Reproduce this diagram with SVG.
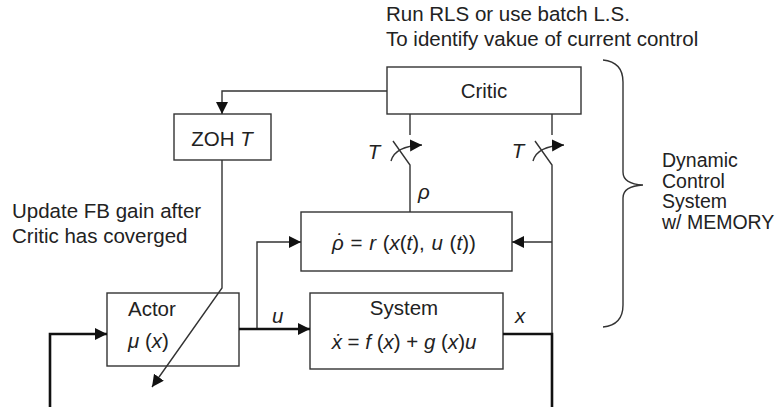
<svg xmlns="http://www.w3.org/2000/svg" width="776" height="407" viewBox="0 0 776 407">
<style>
text{font-family:"Liberation Sans",Arial,sans-serif;font-size:20.5px;fill:#222}
.i{font-style:italic}
.box{fill:#fff;stroke:#333;stroke-width:1.4}
.thin{fill:none;stroke:#333;stroke-width:1.4}
.thick{fill:none;stroke:#111;stroke-width:2.6}
.side{font-size:19.5px}
</style>
<defs>
<marker id="ah" markerUnits="userSpaceOnUse" markerWidth="13" markerHeight="13" refX="12" refY="6" orient="auto">
<path d="M0,0 L12,6 L0,12 z" fill="#111"/>
</marker>
</defs>
<rect width="776" height="407" fill="#fff"/>
<g id="critic">
<rect class="box" x="387" y="67" width="194" height="47"/>
<text x="484" y="98" text-anchor="middle">Critic</text>
</g>
<g id="zoh">
<rect class="box" x="174" y="114" width="97" height="46"/>
<text x="222" y="146" text-anchor="middle">ZOH <tspan class="i">T</tspan></text>
</g>
<g id="labels">
<text x="374" y="159" text-anchor="middle" class="i">T</text>
<text x="518" y="158" text-anchor="middle" class="i">T</text>
<text x="418" y="199" class="i">ρ</text>
<text x="272" y="323" class="i">u</text>
<text x="515" y="323" class="i">x</text>
</g>
<g id="rho">
<rect class="box" x="301" y="212" width="211" height="59"/>
<text x="332" y="250" word-spacing="1"><tspan class="i">ρ</tspan><tspan class="i" dx="-9" dy="-2">˙</tspan><tspan dx="2.2" dy="2"> = </tspan><tspan class="i">r</tspan> (<tspan class="i">x</tspan>(<tspan class="i">t</tspan>), <tspan class="i">u</tspan> (<tspan class="i">t</tspan>))</text>
</g>
<g id="actor">
<rect class="box" x="107" y="293" width="132" height="73"/>
<text x="128" y="316">Actor</text>
<text x="128" y="348"><tspan class="i">μ</tspan> (<tspan class="i">x</tspan>)</text>
</g>
<g id="system">
<rect class="box" x="310" y="293" width="193" height="76"/>
<text x="404" y="315" text-anchor="middle">System</text>
<text x="404" y="349" text-anchor="middle"><tspan class="i">ẋ</tspan> = <tspan class="i">f</tspan> (<tspan class="i">x</tspan>) + <tspan class="i">g</tspan> (<tspan class="i">x</tspan>)<tspan class="i">u</tspan></text>
</g>
<g id="notes">
<text x="386" y="21">Run RLS or use batch L.S.</text>
<text x="386" y="46">To identify vakue of current control</text>
<text x="12" y="218">Update FB gain after</text>
<text x="12" y="243">Critic has coverged</text>
<text x="662" y="167" class="side">Dynamic</text>
<text x="662" y="187.5" class="side">Control</text>
<text x="662" y="208" class="side">System</text>
<text x="662" y="229" class="side">w/ MEMORY</text>
</g>
<g id="connectors">
<path class="thin" d="M387,91 H222 V114" marker-end="url(#ah)"/>
<path class="thin" d="M222,160 V288 L152,387" marker-end="url(#ah)"/>
<path class="thin" d="M410,114 V135"/>
<path class="thin" d="M393,141 L410,165 V212"/>
<path class="thin" d="M391,161 Q395,146 422,145" marker-end="url(#ah)"/>
<path class="thin" d="M552,114 V135"/>
<path class="thin" d="M535,141 L552,165 V334"/>
<path class="thin" d="M533,161 Q537,146 564,145" marker-end="url(#ah)"/>
<path class="thin" d="M552,242 H512" marker-end="url(#ah)"/>
<path class="thin" d="M257,329 V242 H301" marker-end="url(#ah)"/>
<path class="thick" d="M50,407 V334 H107" marker-end="url(#ah)"/>
<path class="thick" d="M239,329 H310" marker-end="url(#ah)"/>
<path class="thick" d="M503,334 H552 V407"/>
<path class="thin" d="M603,60 Q623,62 623,82 V172 Q623,184 643,185 Q623,186 623,198 V305 Q623,325 603,327"/>
</g>
</svg>
